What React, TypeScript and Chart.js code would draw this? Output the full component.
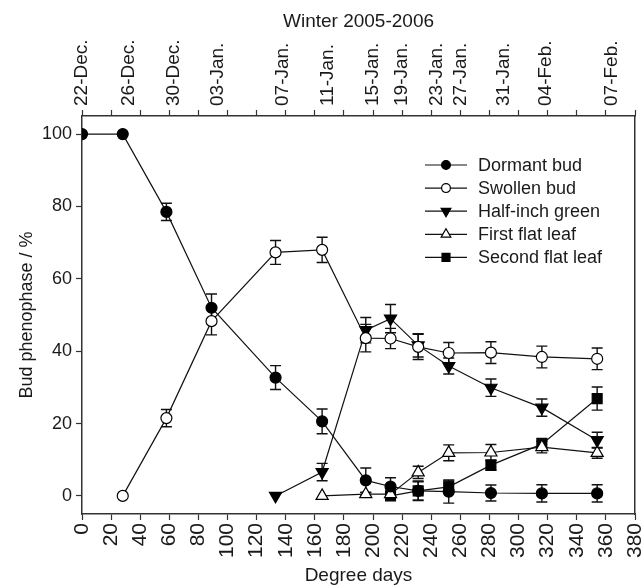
import React, { useEffect, useRef } from 'react';
import { Chart, registerables } from 'chart.js';
import { drawPoint } from 'chart.js/helpers';

Chart.register(...registerables);

// Sampling points (degree days)
const degreeDays = [0, 28, 58, 89, 133, 165, 195, 212, 231, 252, 281, 316, 354];

// Calendar dates on the top axis and their positions in degree days
const dateLabels = ['22-Dec.', '26-Dec.', '30-Dec.', '03-Jan.', '07-Jan.', '11-Jan.', '15-Jan.', '19-Jan.', '23-Jan.', '27-Jan.', '31-Jan.', '04-Feb.', '07-Feb.'];
const dateDegreeDays = [0, 32, 63, 93, 138, 169, 200, 220, 244, 260, 290, 319, 364];

// Series values (%) and their error bars
const dormantBud = [100, 100, 78.5, 52, 32.7, 20.6, 4.3, 2.6, 1.4, 1.2, 0.8, 0.7, 0.7];
const dormantErr = [0, 0, 2.4, 3.8, 3.3, 3.4, 3.4, 2.4, 2.7, 3.2, 2.2, 2.4, 2.4];
const swollenBud = [null, 0, 21.5, 48.3, 67.3, 68, 43.6, 43.5, 41.2, 39.5, 39.6, 38.4, 37.9];
const swollenErr = [null, 0, 2.4, 3.8, 3.3, 3.5, 3.8, 2.8, 3.5, 2.9, 3.0, 3.0, 3.0];
const halfInchGreen = [null, null, null, null, 0, 6.6, 45.8, 49, 41.6, 35.9, 29.9, 24.4, 15.4];
const halfInchErr = [null, null, null, null, 0, 2.4, 3.5, 3.9, 3.2, 2.2, 2.4, 2.4, 2.2];
const firstFlatLeaf = [null, null, null, null, null, 0, 0.5, 0.5, 6.5, 11.9, 12, 13.5, 11.9];
const firstErr = [null, null, null, null, null, 0, 0.5, 0.5, 1.7, 2.2, 2.2, 1.6, 1.5];
const secondFlatLeaf = [null, null, null, null, null, null, null, 0, 1.4, 2.5, 8.5, 14.3, 26.9];
const secondErr = [null, null, null, null, null, null, null, 0, 2.5, 1.6, 1.4, 1.6, 3.2];

const xTicks = [0, 20, 40, 60, 80, 100, 120, 140, 160, 180, 200, 220, 240, 260, 280, 300, 320, 340, 360, 380];
const yTicks = [0, 20, 40, 60, 80, 100];

const FONT = 'Liberation Sans, Arial, Helvetica, sans-serif';
const TEXT = '#1a1a1a';
const AXIS = '#333';
const TOP_FONT_SIZE = 19;

const toPoints = (vals: (number | null)[]) => degreeDays.map((x, i) => ({ x, y: vals[i] }));

const errorBarPlugin = {
  id: 'errorBars',
  beforeDatasetsDraw(chart: any) {
    const { ctx } = chart;
    const xs = chart.scales.x;
    const ys = chart.scales.y;
    ctx.save();
    ctx.strokeStyle = '#111';
    ctx.lineWidth = 1.4;
    chart.data.datasets.forEach((ds: any) => {
      const errs = ds.errors as (number | null)[];
      ds.data.forEach((p: any, i: number) => {
        const e = errs[i];
        if (p.y == null || e == null || e <= 0) return;
        const px = xs.getPixelForValue(p.x);
        const t = ys.getPixelForValue(p.y + e);
        const b = ys.getPixelForValue(p.y - e);
        const w = 5.5;
        ctx.beginPath();
        ctx.moveTo(px, t); ctx.lineTo(px, b);
        ctx.moveTo(px - w, t); ctx.lineTo(px + w, t);
        ctx.moveTo(px - w, b); ctx.lineTo(px + w, b);
        ctx.stroke();
      });
    });
    ctx.restore();
  },
};

const legendPlugin = {
  id: 'lineLegend',
  afterDraw(chart: any) {
    const { ctx, chartArea } = chart;
    const x0 = chartArea.right - 210;
    const y0 = chartArea.top + 49;
    chart.data.datasets.forEach((ds: any, i: number) => {
      const y = y0 + i * 23.1;
      ctx.save();
      ctx.strokeStyle = '#111';
      ctx.lineWidth = 1.2;
      ctx.beginPath();
      ctx.moveTo(x0, y);
      ctx.lineTo(x0 + 42, y);
      ctx.stroke();
      ctx.fillStyle = ds.pointBackgroundColor;
      ctx.strokeStyle = ds.pointBorderColor;
      ctx.lineWidth = ds.pointBorderWidth;
      drawPoint(ctx, {
        pointStyle: ds.pointStyle,
        rotation: ds.pointRotation || 0,
        radius: ds.pointRadius * 0.8,
        borderWidth: ds.pointBorderWidth,
      }, x0 + 21, y);
      ctx.fillStyle = TEXT;
      ctx.font = `18px ${FONT}`;
      ctx.textBaseline = 'middle';
      ctx.textAlign = 'left';
      ctx.fillText(ds.label, x0 + 53, y + 1);
      ctx.restore();
    });
  },
};

function makeDataset(label: string, vals: (number | null)[], errs: (number | null)[], style: string, filled: boolean, radius: number, rotation = 0) {
  return {
    label,
    data: toPoints(vals),
    errors: errs,
    borderColor: '#111',
    borderWidth: 1.2,
    pointStyle: style,
    pointRotation: rotation,
    pointRadius: radius,
    pointBackgroundColor: filled ? '#000' : '#fff',
    pointBorderColor: '#000',
    pointBorderWidth: 1.2,
    fill: false,
    tension: 0,
  };
}

const noPad = (s: any) => {
  s.paddingLeft = 0;
  s.paddingRight = 0;
  s.paddingTop = 0;
  s.paddingBottom = 0;
};

export default function App() {
  const ref = useRef<HTMLCanvasElement | null>(null);
  useEffect(() => {
    document.body.style.margin = '0';
    const canvas = ref.current;
    if (!canvas) return;
    const chart = new Chart(canvas, {
      type: 'line',
      data: {
        datasets: [
          makeDataset('Dormant bud', dormantBud, dormantErr, 'circle', true, 5.5),
          makeDataset('Swollen bud', swollenBud, swollenErr, 'circle', false, 5.5),
          makeDataset('Half-inch green', halfInchGreen, halfInchErr, 'triangle', true, 7, 180),
          makeDataset('First flat leaf', firstFlatLeaf, firstErr, 'triangle', false, 7),
          makeDataset('Second flat leaf', secondFlatLeaf, secondErr, 'rect', true, 7),
        ] as any,
      },
      options: {
        animation: false,
        responsive: false,
        layout: { padding: { left: 8, right: 0, top: 0, bottom: 0 } },
        plugins: { legend: { display: false }, tooltip: { enabled: false } },
        scales: {
          x: {
            type: 'linear',
            position: 'bottom',
            min: 0,
            max: 380,
            afterBuildTicks: (s: any) => { s.ticks = xTicks.map((v) => ({ value: v })); },
            afterFit: (s: any) => { s.height = 71; noPad(s); },
            ticks: { autoSkip: false, minRotation: 90, maxRotation: 90, padding: 3, color: TEXT, font: { family: FONT, size: 21 } },
            grid: { drawOnChartArea: false, drawTicks: true, tickLength: 6, color: AXIS, tickWidth: 1.2 },
            border: { display: true, color: AXIS, width: 1.5 },
            title: { display: true, text: 'Degree days', color: TEXT, font: { family: FONT, size: 19, lineHeight: 1 }, padding: { top: 0, bottom: 0 } },
          },
          xTop: {
            type: 'linear',
            position: 'top',
            min: 0,
            max: 380,
            afterBuildTicks: (s: any) => {
              const vals = Array.from(new Set([...xTicks, ...dateDegreeDays])).sort((a, b) => a - b);
              s.ticks = vals.map((v) => ({ value: v }));
            },
            afterFit: (s: any) => { s.height = 116; noPad(s); },
            ticks: {
              autoSkip: false,
              minRotation: 90,
              maxRotation: 90,
              padding: 4,
              labelOffset: TOP_FONT_SIZE * 1.2,
              color: TEXT,
              font: { family: FONT, size: TOP_FONT_SIZE },
              callback: (v: any) => {
                const i = dateDegreeDays.indexOf(Number(v));
                return i >= 0 ? dateLabels[i] : '';
              },
            },
            grid: {
              drawOnChartArea: false,
              drawTicks: true,
              tickLength: 6,
              tickWidth: 1.2,
              color: (c: any) => (c.tick && xTicks.indexOf(c.tick.value) < 0 ? 'rgba(0,0,0,0)' : AXIS),
            },
            border: { display: true, color: AXIS, width: 1.5 },
            title: { display: true, text: 'Winter 2005-2006', color: TEXT, font: { family: FONT, size: 19 }, padding: { top: 10, bottom: 0 } },
          },
          y: {
            type: 'linear',
            position: 'left',
            min: -5,
            max: 105,
            afterBuildTicks: (s: any) => { s.ticks = yTicks.map((v) => ({ value: v })); },
            afterFit: (s: any) => { s.width = 74; noPad(s); },
            ticks: { padding: 4, color: TEXT, font: { family: FONT, size: 18 } },
            grid: { drawOnChartArea: false, drawTicks: true, tickLength: 6, color: AXIS, tickWidth: 1.2 },
            border: { display: true, color: AXIS, width: 1.5 },
            title: { display: true, text: 'Bud phenophase / %', color: TEXT, font: { family: FONT, size: 18 }, padding: { top: 8, bottom: 0 } },
          },
          yRight: {
            type: 'linear',
            position: 'right',
            min: -5,
            max: 105,
            afterFit: (s: any) => { s.width = 9; noPad(s); },
            ticks: { display: false },
            grid: { display: false, drawOnChartArea: false, drawTicks: false },
            border: { display: true, color: AXIS, width: 1.5 },
          },
        },
      } as any,
      plugins: [errorBarPlugin, legendPlugin],
    });
    return () => chart.destroy();
  }, []);
  return (
    <div style={{ width: 644, height: 585 }}>
      <canvas ref={ref} width={644} height={585} />
    </div>
  );
}
